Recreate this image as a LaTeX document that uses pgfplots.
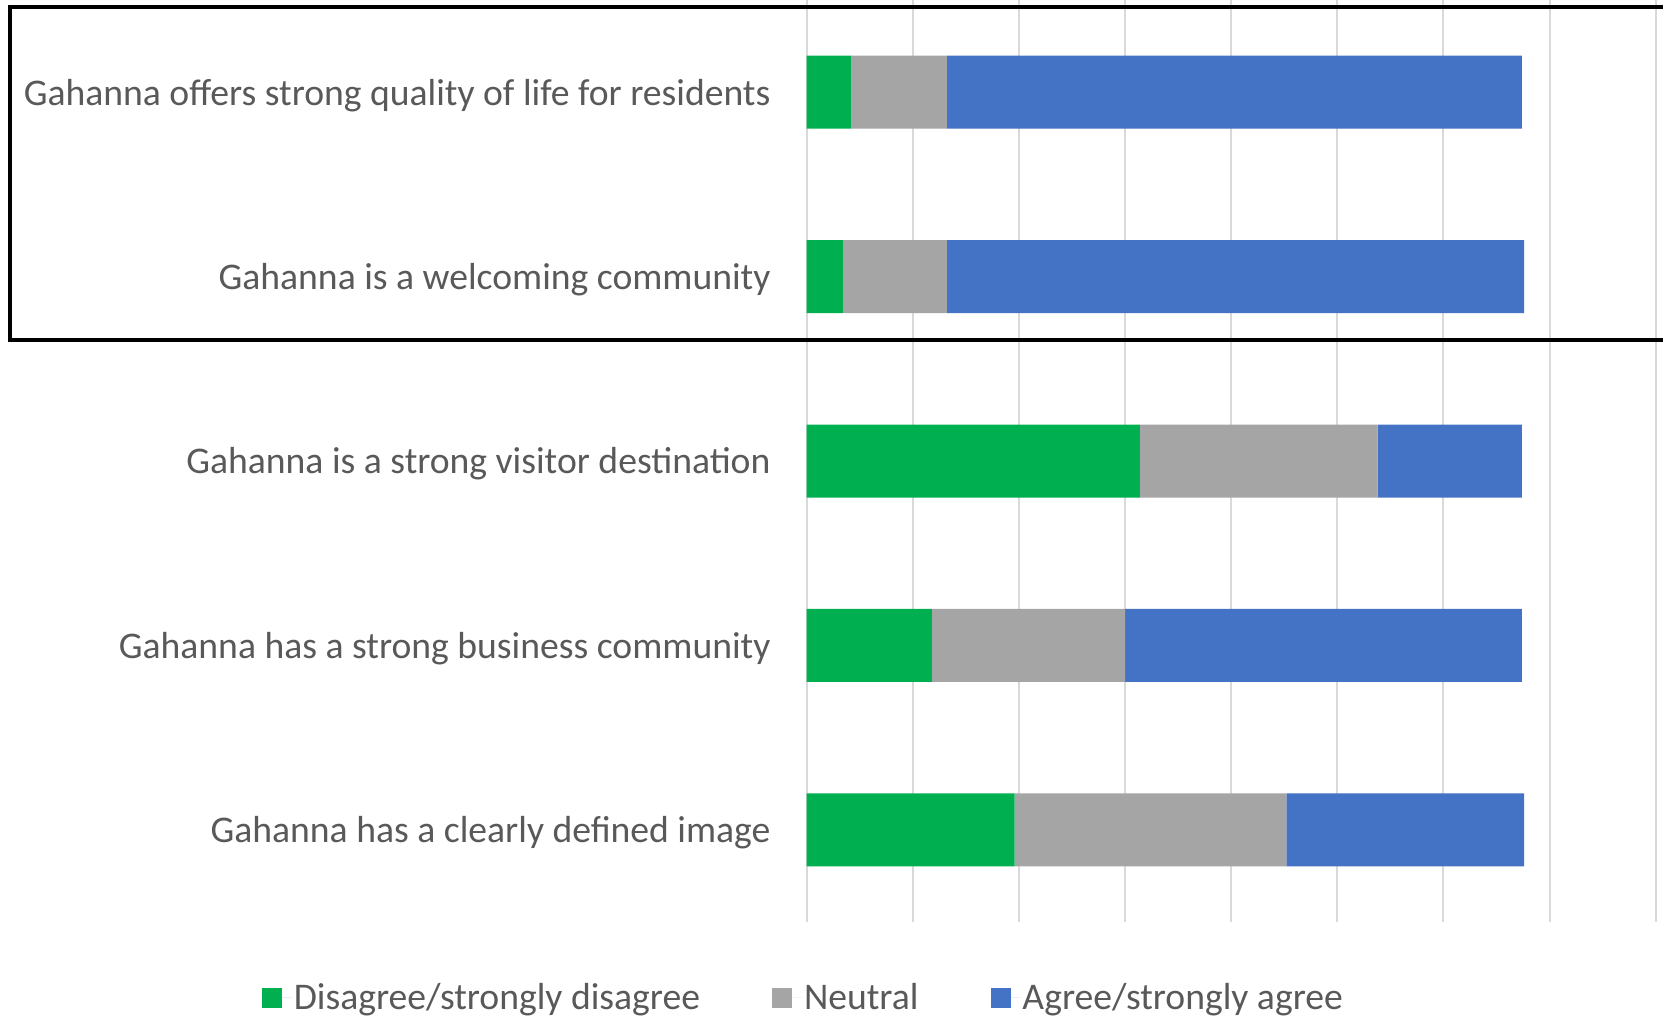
\documentclass[border=0pt]{standalone}
\usepackage{pgfplots}
\pgfplotsset{compat=1.18}
\usepackage{fontspec}
\setmainfont{Carlito}
\definecolor{cgreen}{HTML}{00B050}
\definecolor{cgray}{HTML}{A5A5A5}
\definecolor{cblue}{HTML}{4472C4}
\definecolor{ctext}{HTML}{595959}
\definecolor{cgrid}{HTML}{D9D9D9}
\begin{document}
\begin{tikzpicture}
\begin{axis}[
  at={(806.7bp,95bp)}, anchor=south west,
  scale only axis, width=849bp, height=922bp,
  xbar stacked, bar width=73bp,
  xmin=0, xmax=400, ymin=0.5, ymax=5.5, y dir=reverse,
  xtick={0,50,...,400}, xticklabels={},
  ytick={1,2,3,4,5},
  yticklabels={Gahanna offers strong quality of life for residents, Gahanna is a welcoming community, Gahanna is a strong visitor destination, Gahanna has a strong business community, Gahanna has a clearly defined image},
  yticklabel style={font=\fontsize{37.8}{45}\selectfont, text=ctext, inner sep=0pt, anchor=east, xshift=-36bp, yshift=-3bp},
  major tick length=0pt,
  axis line style={draw=none},
  xmajorgrids, ymajorgrids=false,
  grid style={cgrid, line width=2bp},
  legend style={at={(-0.004,-0.082)}, anchor=center, draw=none, fill=none,
    legend columns=3, font=\fontsize{37.8}{45}\selectfont, text=ctext,
    /tikz/every even column/.append style={column sep=70bp}},
  legend image code/.code={\fill[#1, draw=none] (0bp,-10bp) rectangle (20bp,10bp); \path (20bp,0bp) -- (30bp,0bp);},
]
\addplot[fill=cgreen, draw=none] coordinates {(21,1) (17,2) (157,3) (59,4) (98,5)};
\addplot[fill=cgray, draw=none] coordinates {(45,1) (49,2) (112,3) (91,4) (128,5)};
\addplot[fill=cblue, draw=none] coordinates {(271,1) (272,2) (68,3) (187,4) (112,5)};
\legend{Disagree/strongly disagree, Neutral, Agree/strongly agree}
\end{axis}
\draw[black, line width=4.5bp] (10bp,677bp) rectangle (1690bp,1010bp);
\pgfresetboundingbox
\path[use as bounding box] (0bp,0bp) rectangle (1663bp,1017bp);
\end{tikzpicture}
\end{document}
